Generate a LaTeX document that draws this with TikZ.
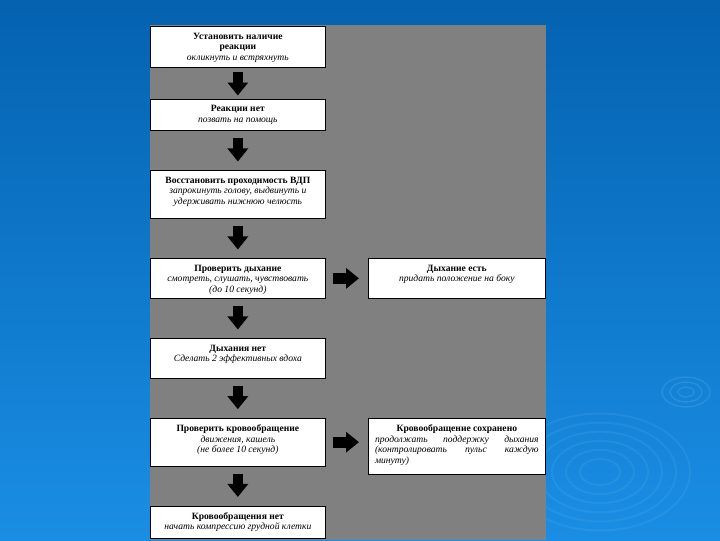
\documentclass[tikz,border=0pt]{standalone}
\usepackage{fontspec}
\setmainfont{Liberation Serif}
\usetikzlibrary{arrows.meta}

\definecolor{bgtop}{RGB}{4,98,176}
\definecolor{bgbottom}{RGB}{26,142,228}
\definecolor{panelgray}{RGB}{128,128,128}
\definecolor{ripple}{RGB}{110,185,240}

% text block of a step: width, height, lines
\newcommand{\boxtxt}[3]{\begin{minipage}[c][#2][t]{#1}\centering\vspace*{5pt}#3\end{minipage}}

\tikzset{
  stepbox/.style={draw=black, fill=white, line width=0.5pt, inner sep=0pt, anchor=north west, font=\fontsize{7.2}{7.9}\selectfont},
  downarrow/.style={line width=8pt, -{Triangle[length=9.75pt,width=15pt]}, shorten <=5.5pt, shorten >=6.4pt},
  sidearrow/.style={line width=8pt, -{Triangle[length=9.75pt,width=15pt]}, shorten <=5.25pt, shorten >=6.75pt}
}

\begin{document}
\begin{tikzpicture}[x=0.75pt,y=0.75pt,yscale=-1,xscale=1]
\useasboundingbox (0,0) rectangle (720,540);

% background
\shade [top color=bgtop, bottom color=bgbottom] (0,0) rectangle (720,540);
% ripples
\foreach \r in {8,16,24}
  \draw [ripple, line width=1pt, opacity=0.25] (686,392) ellipse [x radius=\r, y radius=0.62*\r];
\foreach \r in {20,34,48,62,76,90}
  \draw [ripple, line width=1.5pt, opacity=0.15] (600,472) ellipse [x radius=\r, y radius=0.65*\r];

% gray panel
\fill [panelgray] (150,25) rectangle (546,540);

% left column
\node [stepbox] (b1) at (150,26) {\boxtxt{131.25pt}{30.4pt}{\textbf{Установить наличие}\\\textbf{реакции}\\\textit{окликнуть и встряхнуть}}};
\node [stepbox] (b2) at (150,98.5) {\boxtxt{131.25pt}{23.6pt}{\textbf{Реакции нет}\\\textit{позвать на помощь}}};
\node [stepbox] (b3) at (150,170) {\boxtxt{131.25pt}{36pt}{\textbf{Восстановить проходимость ВДП}\\\textit{запрокинуть голову, выдвинуть и}\\\textit{удерживать нижнюю челюсть}}};
\node [stepbox] (b4) at (150,258) {\boxtxt{131.25pt}{30pt}{\textbf{Проверить дыхание}\\\textit{смотреть, слушать, чувствовать}\\\textit{(до 10 секунд)}}};
\node [stepbox] (b5) at (150,338) {\boxtxt{131.25pt}{30pt}{\textbf{Дыхания нет}\\\textit{Сделать 2 эффективных вдоха}}};
\node [stepbox] (b6) at (150,417.7) {\boxtxt{131.25pt}{36.2pt}{\textbf{Проверить кровообращение}\\\textit{движения, кашель}\\\textit{(не более 10 секунд)}}};
\node [stepbox] (b7) at (150,505.5) {\boxtxt{131.25pt}{24.4pt}{\textbf{Кровообращения нет}\\\textit{начать компрессию грудной клетки}}};

% right column
\node [stepbox] (r1) at (368,258) {\boxtxt{132.75pt}{30pt}{\textbf{Дыхание есть}\\\textit{придать положение на боку}}};
\node [stepbox, inner xsep=5pt] (r2) at (368,417.7) {\begin{minipage}[c][41.9pt][t]{122.75pt}\vspace*{5pt}
\centerline{\textbf{Кровообращение сохранено}}
\itshape продолжать поддержку дыхания\linebreak (контролировать пульс каждую\linebreak минуту)
\end{minipage}};

% arrows
\draw [downarrow, shorten <=3.75pt, shorten >=2.25pt] (b1.south) -- (b2.north);
\draw [downarrow] (b2.south) -- (b3.north);
\draw [downarrow] (b3.south) -- (b4.north);
\draw [downarrow] (b4.south) -- (b5.north);
\draw [downarrow] (b5.south) -- (b6.north);
\draw [downarrow] (b6.south) -- (b7.north);
\draw [sidearrow] (b4.east) -- (r1.west);
\draw [sidearrow] (b6.east) -- (b6.east -| r2.west);

\end{tikzpicture}
\end{document}
